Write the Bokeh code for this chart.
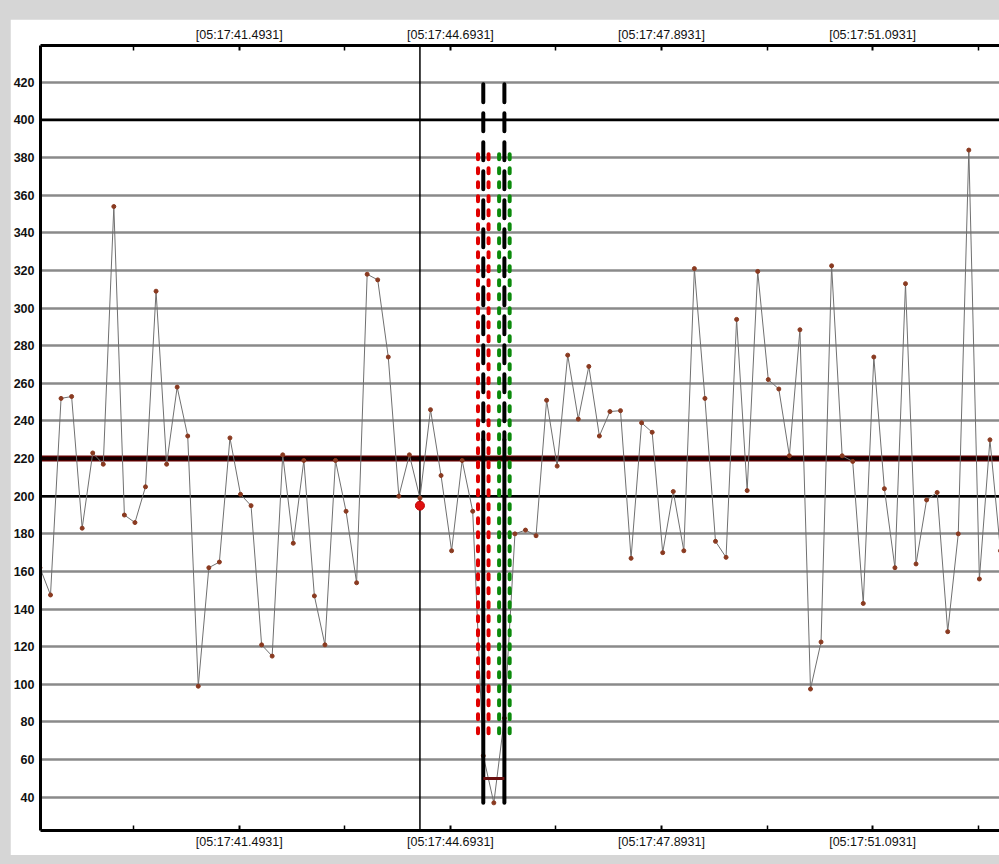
import numpy as np
from bokeh.plotting import figure
from bokeh.models import (FixedTicker, LinearAxis, Span, CustomJSTickFormatter,
                          Range1d, Spacer, ColumnDataSource)
from bokeh.layouts import column, row
from bokeh.embed import file_html
from bokeh.resources import INLINE

# ---------------- data ----------------
sample_values = [162, 147.5, 252, 253, 183, 223, 217, 354, 190, 186, 205, 309, 217, 258, 232,
                 99, 162, 165, 231, 201, 195, 121, 115, 222, 175, 219, 147, 121, 219, 192,
                 154, 318, 315, 274, 200, 222, 199, 246, 211, 171, 219, 192, 62, 37, 82,
                 180, 182, 179, 251, 216, 275, 241, 269, 232, 245, 245.5, 167, 239, 234, 170,
                 202.5, 171, 321, 252, 176, 167.5, 294, 203, 319.5, 262, 257, 221.5, 288.5, 97.5,
                 122.5, 322.5, 221.5, 218.5, 143, 274, 204, 162, 313, 164, 198, 202, 128, 180,
                 384, 156, 230, 171]
first_time = 38.4714      # seconds after 05:17:00
sample_step = 0.16        # seconds between samples
sample_times = [first_time + sample_step * i for i in range(len(sample_values))]

y_ticks = [40, 60, 80, 100, 120, 140, 160, 180, 200, 220, 240, 260, 280, 300,
           320, 340, 360, 380, 400, 420]
x_major_ticks = [41.4931, 44.6931, 47.8931, 51.0931]
x_minor_ticks = [38.2931, 39.8931, 43.0931, 46.2931, 49.4931, 52.6931]

strong_levels = [200, 400]
limit_level = 220

cursor_index = 36
cursor_value = 195

band_left_index = 42
band_right_index = 44
band_half_width = 0.08
dotted_low, dotted_high = 74, 382
dashed_top, dashed_split, dashed_bottom = 419, 230, 37
band_floor = 50

x_start, x_end = 38.4798, 53.0164
y_start, y_end = 22.3, 439.6

# ---------------- figure ----------------
p = figure(width=989, height=836, x_range=Range1d(x_start, x_end),
           y_range=Range1d(y_start, y_end), output_backend="svg",
           toolbar_location=None, min_border_left=29, min_border_top=26,
           min_border_bottom=25, min_border_right=0)
p.outline_line_color = None
p.background_fill_color = "white"
p.border_fill_color = "white"

# y axis
ya = p.yaxis[0]
ya.ticker = FixedTicker(ticks=y_ticks)
ya.axis_line_width = 3
ya.axis_line_color = "black"
ya.major_tick_in = 0
ya.major_tick_out = 0
ya.minor_tick_in = 0
ya.minor_tick_out = 0
ya.major_label_standoff = 6
ya.major_label_text_font = "Liberation Sans"
ya.major_label_text_font_style = "bold"
ya.major_label_text_font_size = "12.5px"
ya.major_label_text_color = "#111111"

fmt = CustomJSTickFormatter(code="return '[05:17:' + tick.toFixed(4) + ']';")

def style_x(ax):
    ax.ticker = FixedTicker(ticks=x_major_ticks, minor_ticks=x_minor_ticks)
    ax.formatter = fmt
    ax.axis_line_width = 3
    ax.axis_line_color = "black"
    ax.major_tick_in = 5
    ax.major_tick_out = 0
    ax.major_tick_line_width = 2
    ax.minor_tick_in = 5
    ax.minor_tick_out = 0
    ax.minor_tick_line_width = 1.5
    ax.major_label_standoff = 4
    ax.major_label_text_font = "Liberation Sans"
    ax.major_label_text_font_size = "12.5px"
    ax.major_label_text_color = "#111111"

style_x(p.xaxis[0])
top_axis = LinearAxis()
style_x(top_axis)
p.add_layout(top_axis, "above")

# grid
p.xgrid.visible = False
p.ygrid.ticker = FixedTicker(ticks=y_ticks)
p.ygrid.grid_line_color = "#8a8a8a"
p.ygrid.grid_line_width = 2.5

for lv in strong_levels:
    p.add_layout(Span(location=lv, dimension="width", line_color="black",
                      line_width=2.5, level="underlay"))
p.add_layout(Span(location=limit_level, dimension="width", line_color="#6a0000",
                  line_width=6, level="underlay"))
p.add_layout(Span(location=limit_level, dimension="width", line_color="#120000",
                  line_width=3.5, level="underlay"))

# cursor line
p.add_layout(Span(location=sample_times[cursor_index], dimension="height",
                  line_color="black", line_width=1.5, level="underlay"))

# data
src = ColumnDataSource(dict(t=sample_times, v=sample_values))
p.line("t", "v", source=src, line_color="#707070", line_width=1)
p.scatter("t", "v", source=src, size=4, fill_color="#8a3a20", line_color="#8a3a20")

# band markers
tl = sample_times[band_left_index]
tr = sample_times[band_right_index]
p.segment(x0=[tl - band_half_width, tl + band_half_width],
          y0=[dotted_low, dotted_low],
          x1=[tl - band_half_width, tl + band_half_width],
          y1=[dotted_high, dotted_high],
          line_color="#e00000", line_width=4, line_dash="5 9", line_cap="round")
p.segment(x0=[tr - band_half_width, tr + band_half_width],
          y0=[dotted_low, dotted_low],
          x1=[tr - band_half_width, tr + band_half_width],
          y1=[dotted_high, dotted_high],
          line_color="#0a8a0a", line_width=4, line_dash="5 9", line_cap="round")
p.segment(x0=[tl, tr], y0=[dashed_top, dashed_top], x1=[tl, tr],
          y1=[dashed_split, dashed_split],
          line_color="black", line_width=4, line_dash="18 11", line_cap="round")
p.segment(x0=[tl, tr], y0=[dashed_split, dashed_split], x1=[tl, tr],
          y1=[dashed_bottom, dashed_bottom],
          line_color="black", line_width=4, line_cap="round")
p.segment(x0=[tl], y0=[band_floor], x1=[tr], y1=[band_floor],
          line_color="#6a1010", line_width=3)

# cursor dot
p.scatter(x=[sample_times[cursor_index]], y=[cursor_value], size=9,
          fill_color="#e01010", line_color="#c00000")

layout = column(Spacer(width=999, height=19),
                row(Spacer(width=10, height=836), p))

html = file_html(layout, INLINE, title="chart")
html = html.replace("</head>", "<style>body{background:#d6d6d6;}</style></head>", 1)
open("out.html", "w").write(html)
